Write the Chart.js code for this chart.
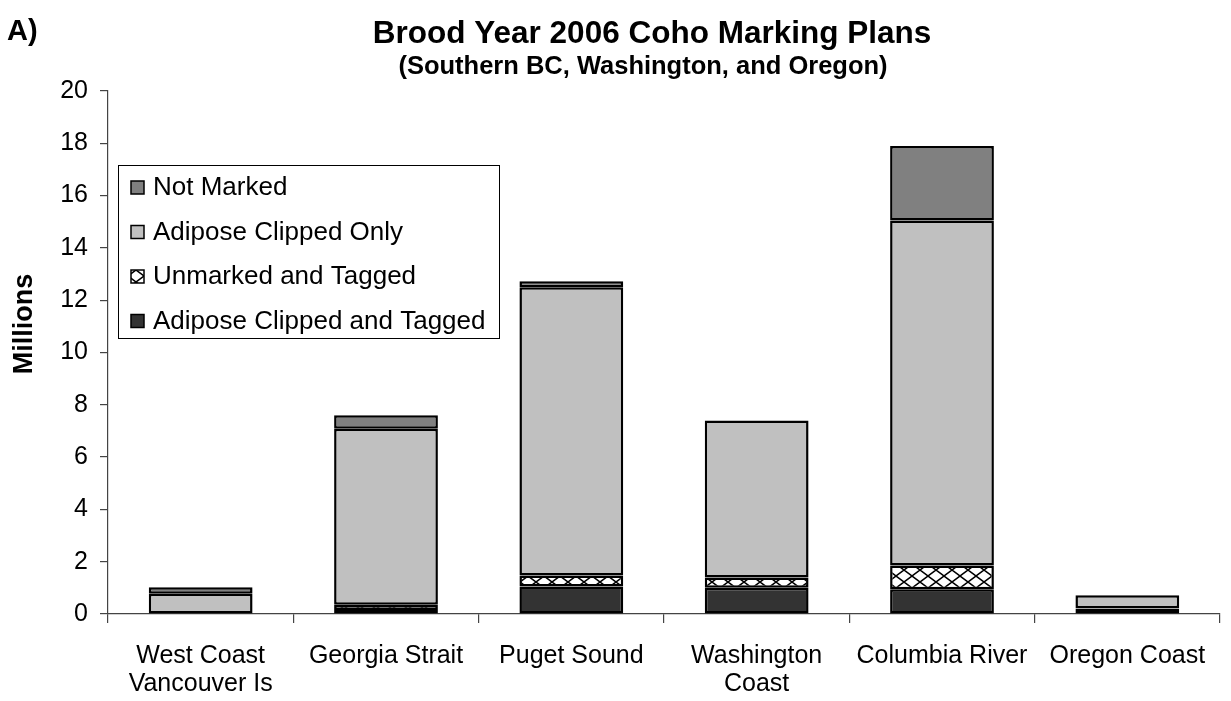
<!DOCTYPE html>
<html>
<head>
<meta charset="utf-8">
<script src="https://cdn.jsdelivr.net/npm/chart.js@4.4.0/dist/chart.umd.min.js"></script>
<style>
  html, body { margin: 0; padding: 0; background: #fff; }
  #wrap { width: 1231px; height: 701px; position: relative; }
</style>
</head>
<body>
<div id="wrap"><canvas id="chart"></canvas></div>
<script>
const categories = [['West Coast', 'Vancouver Is'], 'Georgia Strait', 'Puget Sound', ['Washington', 'Coast'], 'Columbia River', 'Oregon Coast'];
const clippedTagged = [0.02, 0.15, 1.05, 1.0, 0.95, 0.2];
const unmarkedTagged = [0.0, 0.2, 0.42, 0.4, 0.9, 0.02];
const clippedOnly = [0.75, 6.73, 11.03, 6.0, 13.2, 0.5];
const notMarked = [0.25, 0.52, 0.22, 0.0, 2.85, 0.0];
const yTicks = [0, 2, 4, 6, 8, 10, 12, 14, 16, 18, 20];

const FONT = 'Arial, "Liberation Sans", sans-serif';

function hatchPattern() {
  const c = document.createElement('canvas');
  c.width = 16; c.height = 12;
  const g = c.getContext('2d');
  g.fillStyle = '#fff';
  g.fillRect(0, 0, 16, 12);
  g.strokeStyle = '#000';
  g.lineWidth = 1.5;
  g.beginPath();
  g.moveTo(0, 0); g.lineTo(16, 12);
  g.moveTo(16, 0); g.lineTo(0, 12);
  g.stroke();
  return g.createPattern(c, 'repeat');
}
const hatch = hatchPattern();

const titles = {
  id: 'titles',
  afterDraw(chart) {
    const ctx = chart.ctx;
    ctx.save();
    ctx.fillStyle = '#000';
    ctx.textBaseline = 'middle';
    ctx.textAlign = 'left';
    ctx.font = 'bold 29px ' + FONT;
    ctx.fillText('A)', 7, 32);
    ctx.textAlign = 'center';
    ctx.font = 'bold 31.5px ' + FONT;
    ctx.fillText('Brood Year 2006 Coho Marking Plans', 652, 34);
    ctx.font = 'bold 25.5px ' + FONT;
    ctx.fillText('(Southern BC, Washington, and Oregon)', 643, 67);
    // y axis title
    ctx.translate(25, 324);
    ctx.rotate(-Math.PI / 2);
    ctx.font = 'bold 27px ' + FONT;
    ctx.fillText('Millions', 0, 0);
    ctx.restore();
  }
};

const boxLegend = {
  id: 'boxLegend',
  afterDraw(chart) {
    const ctx = chart.ctx;
    const x0 = 118, y0 = 165, w = 381, h = 173;
    ctx.save();
    ctx.fillStyle = '#fff';
    ctx.fillRect(x0, y0, w, h);
    ctx.strokeStyle = '#000';
    ctx.lineWidth = 1;
    ctx.strokeRect(x0 + 0.5, y0 + 0.5, w, h);
    const sets = chart.data.datasets.slice().reverse();
    ctx.font = '26px ' + FONT;
    ctx.textBaseline = 'middle';
    ctx.textAlign = 'left';
    sets.forEach((ds, i) => {
      const y = y0 + 22 + i * 44.5;
      ctx.fillStyle = ds.backgroundColor;
      ctx.fillRect(131, y - 6, 13, 13);
      ctx.strokeStyle = '#000';
      ctx.lineWidth = 1.5;
      ctx.strokeRect(131, y - 6, 13, 13);
      ctx.fillStyle = '#000';
      ctx.fillText(ds.label, 153, y + 1);
    });
    ctx.restore();
  }
};

function bar(label, data, color) {
  return {
    label, data,
    backgroundColor: color,
    borderColor: '#000',
    borderWidth: c => (c.raw ? 2.5 : 0),
    borderSkipped: false,
    barPercentage: 0.56,
    categoryPercentage: 1.0
  };
}

new Chart(document.getElementById('chart'), {
  type: 'bar',
  data: {
    labels: categories,
    datasets: [
      bar('Adipose Clipped and Tagged', clippedTagged, '#333333'),
      bar('Unmarked and Tagged', unmarkedTagged, hatch),
      bar('Adipose Clipped Only', clippedOnly, '#c0c0c0'),
      bar('Not Marked', notMarked, '#808080')
    ]
  },
  options: {
    responsive: true,
    maintainAspectRatio: false,
    animation: false,
    layout: { padding: { top: 91, right: 11, left: 5, bottom: 0 } },
    plugins: {
      legend: { display: false },
      tooltip: { enabled: false },
      title: { display: false }
    },
    scales: {
      x: {
        stacked: true,
        afterFit(axis) { axis.height = 87; },
        border: { color: '#444', width: 1.2 },
        grid: { offset: true, drawOnChartArea: false, tickLength: 9, color: '#444', lineWidth: 1.2 },
        ticks: { color: '#000', font: { family: FONT, size: 25, lineHeight: 1.12 }, padding: 19, maxRotation: 0, autoSkip: false }
      },
      y: {
        stacked: true,
        min: 0, max: 20,
        afterBuildTicks(axis) { axis.ticks = yTicks.map(v => ({ value: v })); },
        afterFit(axis) { axis.width = 103; },
        border: { color: '#444', width: 1.2 },
        grid: { drawOnChartArea: false, tickLength: 8, color: '#444', lineWidth: 1.2 },
        ticks: { color: '#000', font: { family: FONT, size: 25 }, padding: 12 }
      }
    }
  },
  plugins: [titles, boxLegend]
});
</script>
</body>
</html>
